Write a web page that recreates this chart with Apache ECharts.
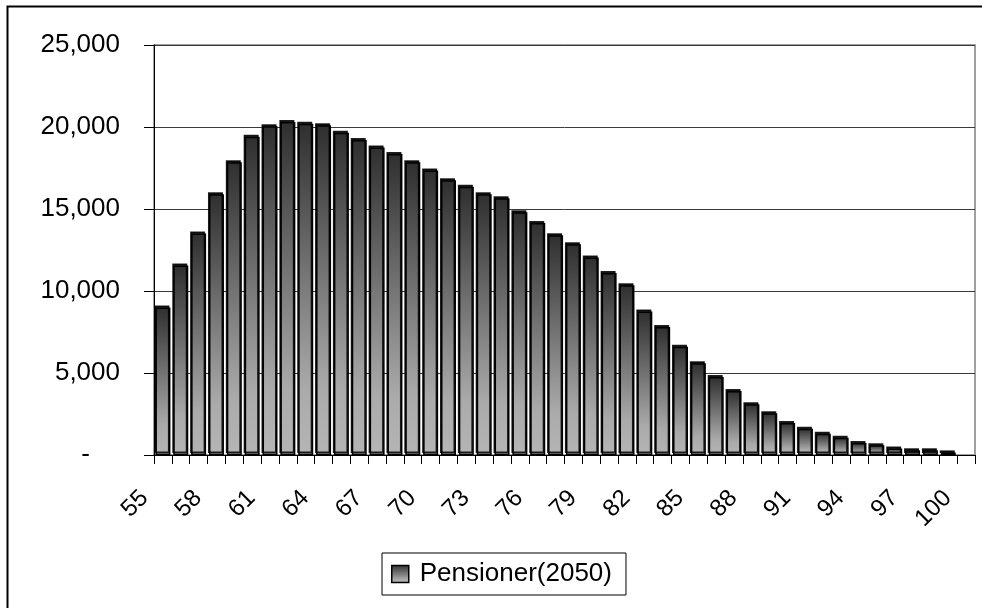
<!DOCTYPE html>
<html>
<head>
<meta charset="utf-8">
<title>Pensioner(2050)</title>
<script src="https://cdn.jsdelivr.net/npm/echarts@6/dist/echarts.min.js"></script>
<style>
  html, body { margin: 0; padding: 0; background: #fff; }
  #chart { width: 982px; height: 608px; }
</style>
</head>
<body>
<div id="chart"></div>
<script>
// Ages 55..100
const ages = [
  55, 56, 57, 58, 59, 60, 61, 62, 63, 64,
  65, 66, 67, 68, 69, 70, 71, 72, 73, 74,
  75, 76, 77, 78, 79, 80, 81, 82, 83, 84,
  85, 86, 87, 88, 89, 90, 91, 92, 93, 94,
  95, 96, 97, 98, 99, 100
];

// Number of pensioners per age in 2050
const pensioners2050 = [
  9000, 11550, 13500, 15900, 17850, 19400, 20050, 20300, 20200, 20100,
  19650, 19200, 18750, 18350, 17850, 17350, 16750, 16350, 15900, 15650,
  14800, 14150, 13400, 12850, 12050, 11100, 10350, 8750, 7800, 6600,
  5600, 4750, 3900, 3100, 2550, 1950, 1600, 1300, 1050, 730,
  590, 400, 290, 290, 160, 0
];

const seriesName = 'Pensioner(2050)';
const yTicks = { min: 0, max: 25000, step: 5000 };

const FONT = '"Liberation Sans", Arial, Helvetica, sans-serif';

const chart = echarts.init(document.getElementById('chart'), null, { renderer: 'canvas' });

const barFill = new echarts.graphic.LinearGradient(0, 0, 0, 1, [
  { offset: 0, color: '#2f2f2f' },
  { offset: 0.8, color: '#aaaaaa' },
  { offset: 1, color: '#b5b5b5' }
]);

// zero-height ages get no bar at all (avoids a stray outline on the axis)
const barData = pensioners2050.map(v => (v > 0 ? v : '-'));

chart.setOption({
  animation: false,
  backgroundColor: '#ffffff',
  graphic: [{
    type: 'rect',
    left: 5, top: 4,
    shape: { x: 0, y: 0, width: 1100, height: 700 },
    style: { fill: 'none', stroke: '#000', lineWidth: 2 },
    silent: true,
    z: -1
  }],
  grid: {
    left: 154, right: 7, top: 45, bottom: 153,
    show: true,
    borderColor: '#808080',
    borderWidth: 1.5,
    backgroundColor: 'transparent'
  },
  legend: {
    data: [{ name: seriesName, icon: 'rect' }],
    left: 382, top: 553,
    orient: 'horizontal',
    itemWidth: 17, itemHeight: 17,
    padding: [8, 14, 8, 9],
    borderColor: '#000',
    borderWidth: 1,
    backgroundColor: '#fff',
    itemStyle: { borderColor: '#000', borderWidth: 1.5 },
    textStyle: { fontFamily: FONT, fontSize: 26, color: '#000', padding: [0, 0, 0, 6] }
  },
  xAxis: {
    type: 'category',
    data: ages.map(String),
    boundaryGap: true,
    axisLine: { show: true, lineStyle: { color: '#000', width: 1 } },
    axisTick: { show: true, interval: 0, length: 9, lineStyle: { color: '#000' } },
    axisLabel: {
      interval: 2,
      rotate: 45,
      margin: 21,
      padding: [0, 26, 0, 0],
      fontFamily: FONT,
      fontSize: 24,
      color: '#000'
    },
    splitLine: { show: false }
  },
  yAxis: {
    type: 'value',
    min: yTicks.min,
    max: yTicks.max,
    interval: yTicks.step,
    axisLine: { show: true, lineStyle: { color: '#000', width: 1 } },
    axisTick: { show: true, inside: false, length: 10, lineStyle: { color: '#000' } },
    axisLabel: {
      margin: 34,
      fontFamily: FONT,
      fontSize: 26,
      color: '#000',
      formatter: function (v) {
        if (v === 0) return '{dash|-}';
        return v.toLocaleString('en-US');
      },
      rich: {
        dash: { fontFamily: FONT, fontSize: 26, color: '#000', padding: [0, 30, 0, 0] }
      }
    },
    splitLine: { show: true, lineStyle: { color: '#3a3a3a', width: 1 } }
  },
  series: [{
    name: seriesName,
    type: 'bar',
    data: barData,
    barWidth: '84%',
    itemStyle: {
      color: barFill,
      borderColor: '#000',
      borderWidth: 1.5,
      shadowColor: 'rgba(0,0,0,0.85)',
      shadowBlur: 0,
      shadowOffsetX: -1,
      shadowOffsetY: -2
    },
    emphasis: { disabled: true }
  }]
});
</script>
</body>
</html>
